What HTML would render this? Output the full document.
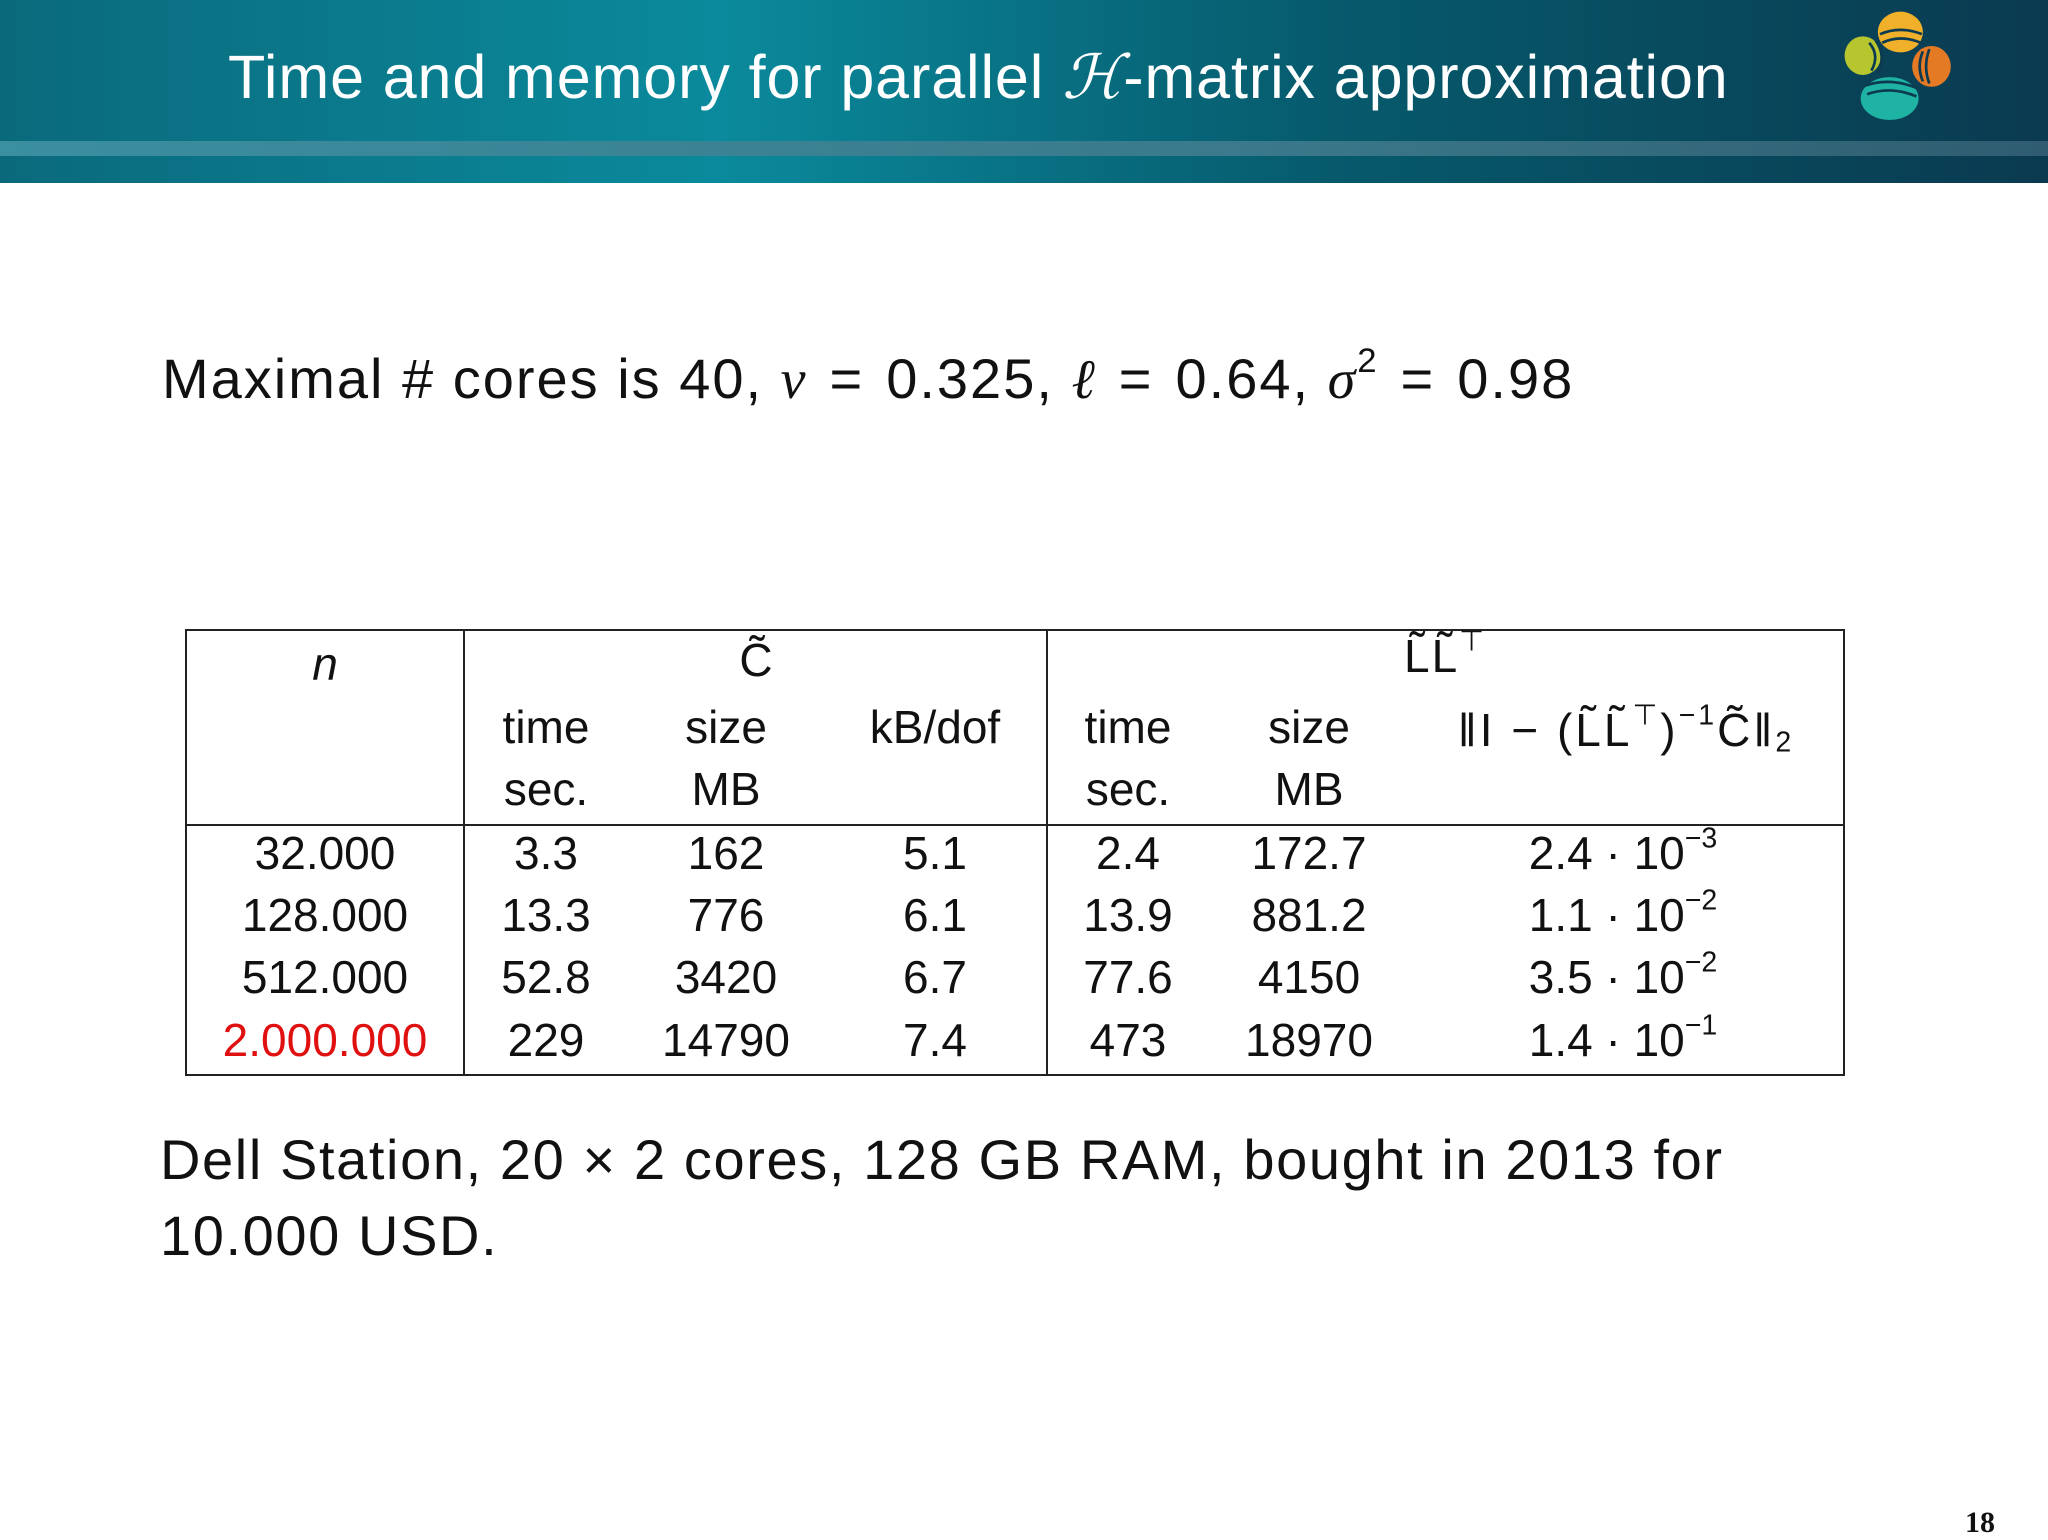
<!DOCTYPE html>
<html><head><meta charset="utf-8"><style>
body{margin:0;width:2048px;height:1536px;position:relative;background:#fff;overflow:hidden;font-family:"Liberation Sans","DejaVu Sans",sans-serif;color:#111}
.a{position:absolute;white-space:nowrap}
.c{position:absolute;white-space:nowrap;transform:translate(-50%,-50%);font-size:46px}
.vl{position:absolute;width:2px;background:#222}
.hl{position:absolute;height:2px;background:#222}
sup{font-size:0.62em;vertical-align:0.75em;line-height:0}
sub{font-size:0.62em;vertical-align:-0.2em;line-height:0}
.eq{margin:0 22px}
</style></head><body>
<div class="a" style="left:0;top:0;width:2048px;height:183px;background:linear-gradient(90deg,#0a6a7c 0%,#0a8a9c 35%,#065a6c 65%,#0a3a50 100%)"></div>
<div class="a" style="left:0;top:141px;width:2048px;height:15px;background:linear-gradient(90deg,#3a8fa0,#3a7a8c 60%,#2f5c70)"></div>
<div class="a" style="left:228px;top:42px;font-size:61px;color:#fff;letter-spacing:0.9px">Time and memory for parallel <i style="font-family:'Liberation Serif',serif">ℋ</i>-matrix approximation</div>
<svg class="a" style="left:1830px;top:2px" width="130" height="118" viewBox="0 0 120 110">
<ellipse cx="65" cy="28" rx="21" ry="19" fill="#f0b02a"/>
<ellipse cx="30" cy="50" rx="17" ry="18" fill="#b7c62e"/>
<ellipse cx="94" cy="60" rx="18" ry="19" fill="#e57a25"/>
<ellipse cx="55" cy="90" rx="27" ry="20" fill="#1fb3a4"/>
<g stroke="#0c3a50" stroke-width="2.5" fill="none"><path d="M46 30 Q65 22 85 30"/><path d="M48 38 Q65 30 84 38"/><path d="M36 38 Q46 50 38 64"/><path d="M42 36 Q52 50 44 66"/><path d="M86 46 Q80 60 86 74"/><path d="M92 44 Q86 60 92 76"/><path d="M32 78 Q55 70 80 80"/><path d="M34 86 Q56 78 80 88"/></g></svg>
<div class="a" style="left:162px;top:346px;font-size:56px;letter-spacing:2px">Maximal # cores is 40, <i style="font-family:'Liberation Serif',serif">ν</i><span class="eq">=</span>0.325, <i style="font-family:'Liberation Serif',serif">ℓ</i><span class="eq">=</span>0.64, <i style="font-family:'Liberation Serif',serif">σ</i><sup>2</sup><span class="eq">=</span>0.98</div>
<div>
<div class="hl" style="left:185px;top:629px;width:1660px"></div>
<div class="hl" style="left:185px;top:824px;width:1660px"></div>
<div class="hl" style="left:185px;top:1074px;width:1660px"></div>
<div class="vl" style="left:185px;top:629px;height:447px"></div>
<div class="vl" style="left:463px;top:629px;height:447px"></div>
<div class="vl" style="left:1046px;top:629px;height:447px"></div>
<div class="vl" style="left:1843px;top:629px;height:447px"></div>
<div class="c" style="left:325px;top:664px"><i>n</i></div>
<div class="c" style="left:756px;top:660px">C̃</div>
<div class="c" style="left:1445px;top:656px;letter-spacing:2px">L̃L̃<sup>⊤</sup></div>
<div class="c" style="left:546px;top:727px">time</div><div class="c" style="left:546px;top:789px">sec.</div>
<div class="c" style="left:726px;top:727px">size</div><div class="c" style="left:726px;top:789px">MB</div>
<div class="c" style="left:935px;top:727px">kB/dof</div>
<div class="c" style="left:1128px;top:727px">time</div><div class="c" style="left:1128px;top:789px">sec.</div>
<div class="c" style="left:1309px;top:727px">size</div><div class="c" style="left:1309px;top:789px">MB</div>
<div class="c" style="left:1626px;top:730px;letter-spacing:3px">‖I − (L̃L̃<sup>⊤</sup>)<sup>−1</sup>C̃‖<sub>2</sub></div>
<div id="rows"></div>
</div>
<div class="a" style="left:160px;top:1122px;font-size:56px;line-height:76px;letter-spacing:1.6px">Dell Station, 20 × 2 cores, 128 GB RAM, bought in 2013 for<br>10.000 USD.</div>
<div class="a" style="left:1965px;top:1506px;font-family:'Liberation Serif',serif;font-weight:bold;font-size:30px">18</div>
<script>
const nVals=["32.000","128.000","512.000","2.000.000"];
const cTime=["3.3","13.3","52.8","229"];
const cSize=["162","776","3420","14790"];
const kbDof=["5.1","6.1","6.7","7.4"];
const lTime=["2.4","13.9","77.6","473"];
const lSize=["172.7","881.2","4150","18970"];
const errMant=["2.4","1.1","3.5","1.4"];
const errExp=["−3","−2","−2","−1"];
const colX=[325,546,726,935,1128,1309,1623];
const rowY=[853,915,977,1040];
const host=document.getElementById('rows');
for(let i=0;i<nVals.length;i++){
  const vals=[nVals[i],cTime[i],cSize[i],kbDof[i],lTime[i],lSize[i],errMant[i]+' · 10<sup>'+errExp[i]+'</sup>'];
  for(let j=0;j<vals.length;j++){
    const d=document.createElement('div');
    d.className='c';
    
    
    d.style.left=colX[j]+'px';d.style.top=rowY[i]+'px';
    if(i===3&&j===0)d.style.color='#e01010';
    d.innerHTML=vals[j];
    host.appendChild(d);
  }
}
</script>
</body></html>
